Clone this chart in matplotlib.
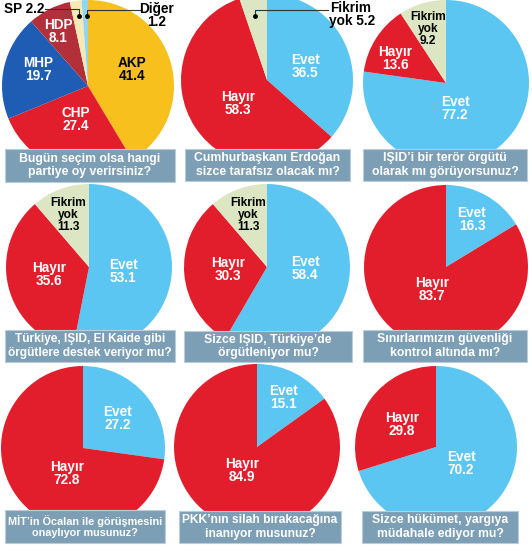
import matplotlib
matplotlib.use('Agg')
import matplotlib.pyplot as plt
from matplotlib.patches import Rectangle

plt.rcParams['font.family'] = ['Liberation Sans', 'DejaVu Sans']

W, H = 532, 552

# --- data -------------------------------------------------------------
party_names = ['AKP', 'CHP', 'MHP', 'HDP', 'SP', 'Diğer']
party_values = [41.4, 27.4, 19.7, 8.1, 2.2, 1.2]

answer_names = ['Evet', 'Hayır', 'Fikrim yok']
evet = [36.5, 77.2, 53.1, 58.4, 16.3, 27.2, 15.1, 70.2]
hayir = [58.3, 13.6, 35.6, 30.3, 83.7, 72.8, 84.9, 29.8]
fikrim_yok = [5.2, 9.2, 11.3, 11.3, 0.0, 0.0, 0.0, 0.0]

questions = [
    'Bugün seçim olsa hangi\npartiye oy verirsiniz?',
    'Cumhurbaşkanı Erdoğan\nsizce tarafsız olacak mı?',
    'IŞID’i bir terör örgütü\nolarak mı görüyorsunuz?',
    'Türkiye, IŞID, El Kaide gibi\nörgütlere destek veriyor mu?',
    'Sizce IŞID, Türkiye’de\nörgütleniyor mu?',
    'Sınırlarımızın güvenliği\nkontrol altında mı?',
    'MİT’in Öcalan ile görüşmesini\nonaylıyor musunuz?',
    'PKK’nın silah bırakacağına\ninanıyor musunuz?',
    'Sizce hükümet, yargıya\nmüdahale ediyor mu?',
]

# --- layout (pixels, y from top) ---------------------------------------
party_colors = ['#f8c01c', '#e31e2c', '#1f5cb4', '#b3303a', '#f6e9b4', '#92d5f0']
answer_colors = ['#5cc6f3', '#e31e2c', '#dde6c2']

centers = [(88, 86), (267, 80), (446, 83),
           (89, 267), (267, 267), (446, 267),
           (83, 448), (257, 447), (436, 447)]
radii = [86, 86, 83, 83, 83, 82, 82, 83, 81]

boxes = [(5, 149, 170, 33), (185, 149, 165, 32), (363, 149, 164, 32),
         (5, 330, 170, 32), (184, 331, 168, 31), (363, 330, 164, 32),
         (5, 510, 160, 33), (179, 511, 162, 32), (362, 511, 156, 32)]

# label anchor (name line) for each slice; None -> leader label
party_pos = [(132, 63), (76, 113), (38, 63), (58, 25), None, None]
answer_pos = [
    [(305, 60), (238, 97), None],
    [(455, 102), (395, 52), (428, 16)],
    [(123, 265), (49, 268), (68, 202)],
    [(305, 262), (228, 263), (248, 202)],
    [(472, 213), (432, 283), None],
    [(118, 412), (67, 467), None],
    [(283, 391), (242, 464), None],
    [(461, 457), (402, 418), None],
]

FS = 9.8
SMALL_FS = 8.6
CAP_FS = 8.8


def fy(py):
    return H - py


def fmt(v):
    return f'{v:.1f}'


fig = plt.figure(figsize=(W / 100, H / 100), dpi=100)
ax = fig.add_axes([0, 0, 1, 1])


def draw_pie(values, colors, center, r):
    ax.pie(values, colors=colors, startangle=90, counterclock=False,
           center=(center[0], fy(center[1])), radius=r,
           wedgeprops=dict(linewidth=0), frame=True)


def label(name, value, pos, color, lh=13):
    x, y = pos
    ax.text(x, fy(y), name, color=color, fontsize=FS, fontweight='bold',
            ha='center', va='center', zorder=5)
    ax.text(x, fy(y + lh), fmt(value), color=color, fontsize=FS,
            fontweight='bold', ha='center', va='center', zorder=5)


# panel 1: parties
draw_pie(party_values, party_colors, centers[0], radii[0])
for name, v, pos in zip(party_names, party_values, party_pos):
    if pos is None:
        continue
    label(name, v, pos, 'black' if name == 'AKP' else 'white')

# leader labels for the small slices
ax.plot([45, 79, 79], [fy(9), fy(9), fy(16)], color='#333333', lw=0.8, zorder=4)
ax.plot([79], [fy(16)], 'o', color='black', ms=2.5, zorder=4)
ax.text(4, fy(9), f'{party_names[4]} {fmt(party_values[4])}', fontsize=FS,
        fontweight='bold', ha='left', va='center')
ax.plot([87, 87, 140], [fy(16), fy(10), fy(10)], color='#333333', lw=0.8, zorder=4)
ax.plot([87], [fy(16)], 'o', color='black', ms=2.5, zorder=4)
ax.text(157, fy(9), party_names[5], fontsize=FS, fontweight='bold',
        ha='center', va='center')
ax.text(157, fy(22), fmt(party_values[5]), fontsize=FS, fontweight='bold',
        ha='center', va='center')

# yes/no panels
for i in range(8):
    vals = [evet[i], hayir[i], fikrim_yok[i]]
    keep = [k for k in range(3) if vals[k] > 0]
    draw_pie([vals[k] for k in keep], [answer_colors[k] for k in keep],
             centers[i + 1], radii[i + 1])
    for k in keep:
        pos = answer_pos[i][k]
        if pos is None:
            continue
        if k == 2:
            x, y = pos
            ax.text(x, fy(y - 5), 'Fikrim\nyok\n' + fmt(vals[k]),
                    fontsize=SMALL_FS, fontweight='bold', ha='center',
                    va='top', linespacing=0.98, zorder=5)
        else:
            label(answer_names[k], vals[k], pos, 'white')

# leader label for panel 2 "Fikrim yok"
ax.plot([255, 255, 328], [fy(16), fy(10), fy(10)], color='#333333', lw=0.8, zorder=4)
ax.plot([255], [fy(16)], 'o', color='black', ms=2.5, zorder=4)
ax.text(351, fy(8), 'Fikrim', fontsize=FS, fontweight='bold', ha='center', va='center')
ax.text(352, fy(21), f'yok {fmt(fikrim_yok[0])}', fontsize=FS, fontweight='bold',
        ha='center', va='center')

# caption boxes
cap_texts = []
for (x, y, w, h), q in zip(boxes, questions):
    ax.add_patch(Rectangle((x, fy(y + h)), w, h, facecolor='#7d9fb6',
                           edgecolor='#b9cdd9', lw=0.8, zorder=6))
    t = ax.text(x + w / 2, fy(y + h / 2), q, color='white', fontsize=CAP_FS,
                fontweight='bold', ha='center', va='center', linespacing=1.15,
                zorder=7)
    cap_texts.append((t, w))

ax.set_xlim(0, W)
ax.set_ylim(0, H)
ax.set_aspect('auto')
ax.axis('off')

# shrink captions that do not fit their box
fig.canvas.draw()
r = fig.canvas.get_renderer()
for t, w in cap_texts:
    tw = t.get_window_extent(renderer=r).width
    if tw > w - 6:
        t.set_fontsize(CAP_FS * (w - 6) / tw)

fig.savefig('out.png', dpi=100)
